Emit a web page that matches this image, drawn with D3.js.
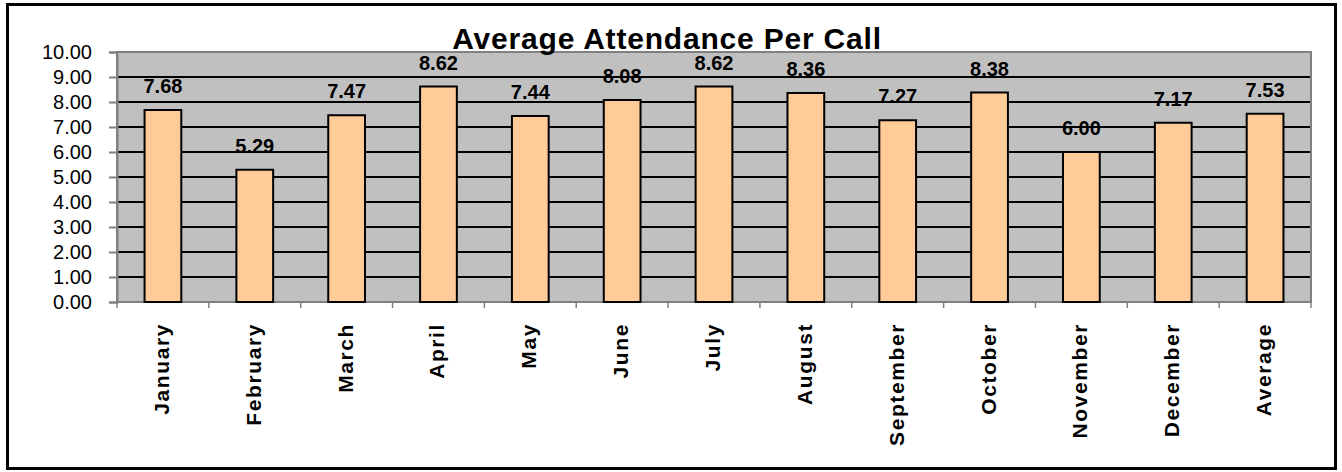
<!DOCTYPE html>
<html>
<head>
<meta charset="utf-8">
<script src="https://cdn.jsdelivr.net/npm/d3@7"></script>
<style>
body { margin: 0; background: #fff; }
text { font-family: "Liberation Sans", Arial, sans-serif; }
</style>
</head>
<body>
<script>
const months = ["January", "February", "March", "April", "May", "June", "July", "August", "September", "October", "November", "December", "Average"];
const attendance = [7.68, 5.29, 7.47, 8.62, 7.44, 8.08, 8.62, 8.36, 7.27, 8.38, 6.00, 7.17, 7.53];
const yTicks = [0, 1, 2, 3, 4, 5, 6, 7, 8, 9, 10];

let width = 1342, height = 472;
let plot = {left: 117, right: 1311, top: 52, bottom: 302};

const svg = d3.select("body").append("svg")
    .attr("width", width)
    .attr("height", height);

// chart frame
svg.append("rect")
    .attr("x", 7.5).attr("y", 4.5)
    .attr("width", 1328).attr("height", 464)
    .attr("fill", "#fff")
    .attr("stroke", "#000")
    .attr("stroke-width", 3);

const x = d3.scaleBand()
    .domain(months)
    .range([plot.left, plot.right])
    .paddingInner(0.6)
    .paddingOuter(0.3);

const y = d3.scaleLinear()
    .domain([0, 10])
    .range([plot.bottom, plot.top]);

svg.append("rect")
    .attr("x", plot.left).attr("y", plot.top)
    .attr("width", plot.right - plot.left)
    .attr("height", plot.bottom - plot.top)
    .attr("fill", "#c0c0c0");

// gridlines
svg.append("g")
    .selectAll("line")
    .data(yTicks.filter(d => d > 0 && d < 10))
    .enter().append("line")
    .attr("x1", plot.left).attr("x2", plot.right)
    .attr("y1", d => y(d)).attr("y2", d => y(d))
    .attr("stroke", "#000")
    .attr("stroke-width", 2);

svg.append("rect")
    .attr("x", plot.left).attr("y", plot.top)
    .attr("width", plot.right - plot.left)
    .attr("height", plot.bottom - plot.top)
    .attr("fill", "none")
    .attr("stroke", "#808080")
    .attr("stroke-width", 2);

// y axis
const yAxis = d3.axisLeft(y)
    .tickValues(yTicks)
    .tickFormat(d3.format(".2f"))
    .tickSize(8)
    .tickPadding(17);

svg.append("g")
    .attr("class", "axis")
    .attr("transform", "translate(" + plot.left + ",0)")
    .call(yAxis)
    .call(g => g.select(".domain").attr("stroke", "#808080").attr("stroke-width", 2))
    .call(g => g.selectAll(".tick line").attr("stroke", "#808080").attr("stroke-width", 2))
    .call(g => g.selectAll("text").attr("font-size", "20px").attr("font-family", "'Liberation Sans', Arial, sans-serif").attr("fill", "#000"));

// x axis ticks at category boundaries
svg.append("g")
    .selectAll("line")
    .data(d3.range(months.length + 1))
    .enter().append("line")
    .attr("x1", i => plot.left + i * (plot.right - plot.left) / months.length)
    .attr("x2", i => plot.left + i * (plot.right - plot.left) / months.length)
    .attr("y1", plot.bottom).attr("y2", plot.bottom + 6)
    .attr("stroke", "#808080")
    .attr("stroke-width", 1.5);

svg.append("g")
    .selectAll("text")
    .data(months)
    .enter().append("text")
    .attr("transform", d => "translate(" + (x(d) + x.bandwidth() / 2 + 6) + "," + (plot.bottom + 21) + ") rotate(-90)")
    .attr("text-anchor", "end")
    .attr("font-size", "21px")
    .attr("font-weight", "bold")
    .attr("letter-spacing", "1.6px")
    .text(d => d);

// bars
svg.append("g")
    .selectAll("rect")
    .data(attendance)
    .enter().append("rect")
    .attr("x", (d, i) => x(months[i]))
    .attr("y", d => y(d))
    .attr("width", x.bandwidth())
    .attr("height", d => y(0) - y(d))
    .attr("fill", "#ffcc99")
    .attr("stroke", "#000")
    .attr("stroke-width", 2);

svg.append("g")
    .selectAll("text")
    .data(attendance)
    .enter().append("text")
    .attr("x", (d, i) => x(months[i]) + x.bandwidth() / 2)
    .attr("y", d => y(d) - 17)
    .attr("text-anchor", "middle")
    .attr("font-size", "20px")
    .attr("font-weight", "bold")
    .text(d => d.toFixed(2));

svg.append("text")
    .attr("x", 667)
    .attr("y", 49)
    .attr("text-anchor", "middle")
    .attr("font-size", "30px")
    .attr("font-weight", "bold")
    .attr("letter-spacing", "0.8px")
    .text("Average Attendance Per Call");
</script>
</body>
</html>
